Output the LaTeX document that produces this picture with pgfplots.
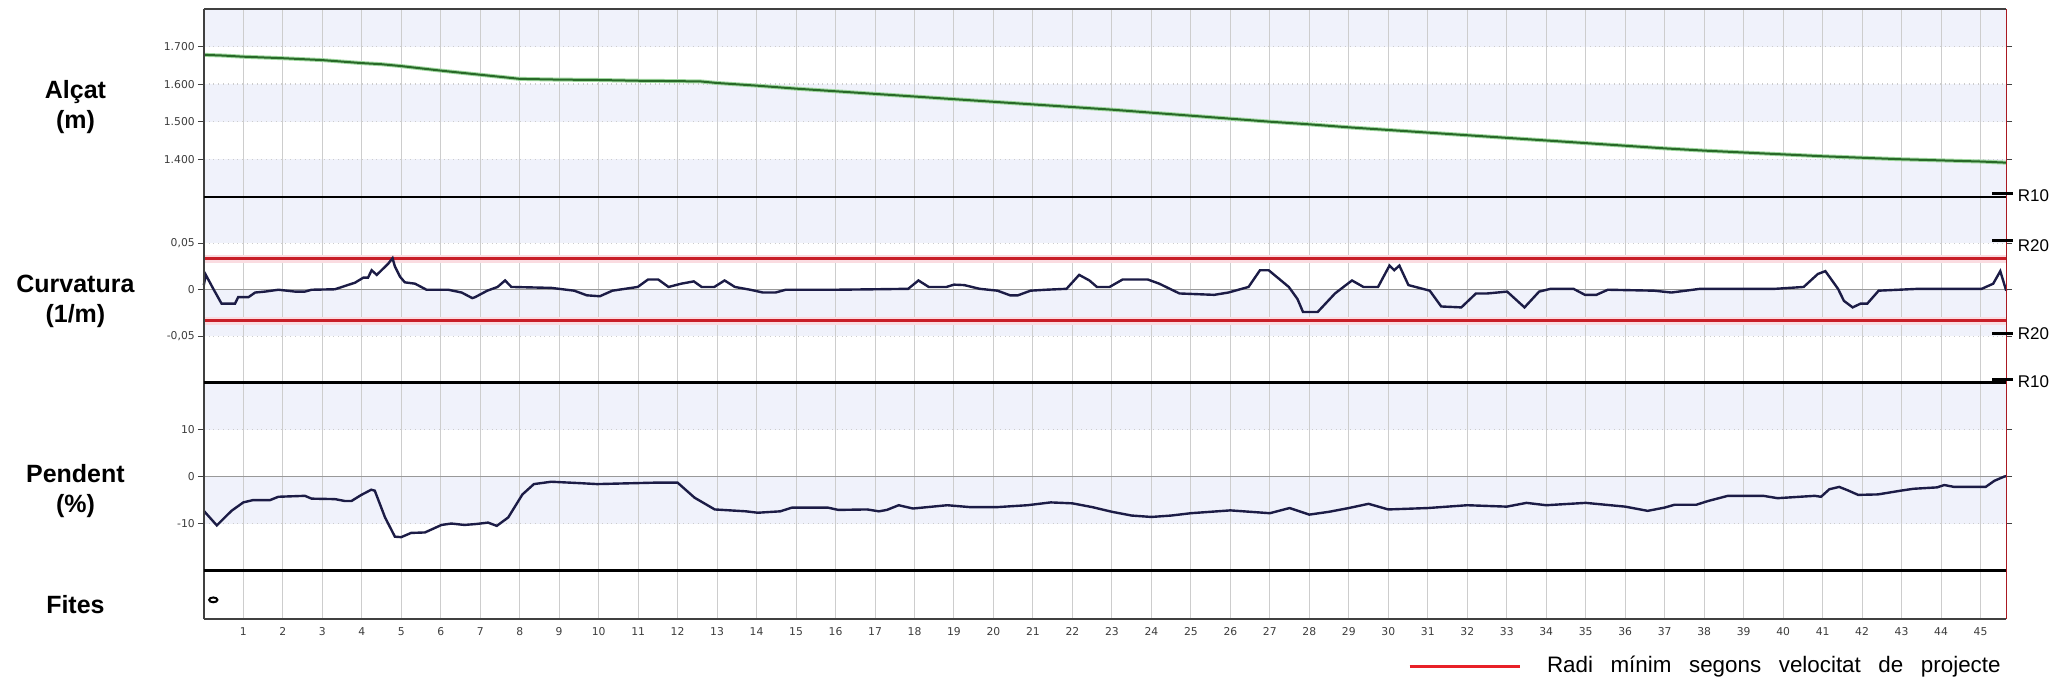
\documentclass[border=0pt]{standalone}
\usepackage{fontspec}
\setmainfont{Liberation Sans}
\newfontfamily\tickfont{DejaVu Sans}
\usepackage{pgfplots}
\pgfplotsset{compat=1.18}

\definecolor{framec}{RGB}{64,64,64}
\definecolor{band}{RGB}{240,242,251}
\definecolor{gridc}{RGB}{205,205,205}
\definecolor{navy}{RGB}{28,28,70}
\definecolor{dgreen}{RGB}{40,105,40}
\definecolor{lgreen}{RGB}{160,215,160}
\definecolor{redline}{RGB}{200,30,40}
\definecolor{pinkglow}{RGB}{250,220,225}
\definecolor{legred}{RGB}{232,32,40}
\definecolor{ticktext}{RGB}{60,60,60}

\pgfplotsset{
  panel/.style={
    set layers, clip=false,
    scale only axis, width=902pt, xmin=0, xmax=45.65,
    xtick={1,...,45},
    grid=major,
    x grid style={gridc, line width=0.5pt},
    y grid style={gridc, dotted, line width=0.7pt},
    axis line style={draw=none},
    tick label style={font=\tickfont\fontsize{5.4}{6}\selectfont, text=ticktext},
    yticklabel style={xshift=2pt},
    xticklabel style={yshift=2.5pt},
    ytick style={framec, line width=0.5pt}, xtick style={draw=none},
    tick align=outside, major tick length=3pt,
    /pgf/number format/assume math mode=true,
  },
  nolabels/.style={xticklabels={}},
}
\newcommand\sides{%
  \draw[framec, line width=1pt] (rel axis cs:0,0) -- (rel axis cs:0,1);
  \draw[redline!85!black, line width=0.6pt] (rel axis cs:1,0) -- (rel axis cs:1,1);
}

\begin{document}
\begin{tikzpicture}

% Alcat
\begin{axis}[panel, nolabels, at={(102pt,-4.5pt)}, anchor=north west, height=94pt,
  ymin=1300, ymax=1800, ytick={1400,1500,1600,1700},
  yticklabels={1.400,1.500,1.600,1.700}]
\begin{pgfonlayer}{axis background}
\fill[band] (axis cs:0,1700) rectangle (axis cs:45.65,1800);
\fill[band] (axis cs:0,1500) rectangle (axis cs:45.65,1600);
\fill[band] (axis cs:0,1300) rectangle (axis cs:45.65,1400);
\end{pgfonlayer}
\addplot[lgreen, line width=2pt] coordinates {
(0,1678) (0.5,1676) (1,1673) (2,1669) (3,1664) (4,1656) (4.5,1653) (5,1648) (6,1636)
(7,1625) (8,1614) (9,1612) (10,1611) (11,1609) (12,1608) (12.6,1607) (13,1603) (14,1596)
(15,1588) (16,1581) (17,1574) (18,1567) (19,1560) (20,1553) (21,1546) (22,1539) (23,1532)
(24,1524) (25,1516) (26,1508) (27,1500) (28,1493) (29,1485) (30,1478) (31,1471) (32,1464)
(33,1457) (34,1450) (35,1443) (36,1436) (37,1429) (38,1423) (39,1418) (40,1413) (41,1408)
(42,1404) (43,1400) (44,1397) (45,1394) (45.65,1391)};
\addplot[dgreen, line width=1pt] coordinates {
(0,1678) (0.5,1676) (1,1673) (2,1669) (3,1664) (4,1656) (4.5,1653) (5,1648) (6,1636)
(7,1625) (8,1614) (9,1612) (10,1611) (11,1609) (12,1608) (12.6,1607) (13,1603) (14,1596)
(15,1588) (16,1581) (17,1574) (18,1567) (19,1560) (20,1553) (21,1546) (22,1539) (23,1532)
(24,1524) (25,1516) (26,1508) (27,1500) (28,1493) (29,1485) (30,1478) (31,1471) (32,1464)
(33,1457) (34,1450) (35,1443) (36,1436) (37,1429) (38,1423) (39,1418) (40,1413) (41,1408)
(42,1404) (43,1400) (44,1397) (45,1394) (45.65,1391)};
\sides
\draw[framec, line width=1pt] (rel axis cs:0,1) -- (rel axis cs:1,1);
\end{axis}

% Curvatura
\begin{axis}[panel, nolabels, at={(102pt,-98.5pt)}, anchor=north west, height=93pt,
  ymin=-0.1, ymax=0.1, ytick={-0.05,0,0.05},
  yticklabels={{-0,05},0,{0,05}}]
\begin{pgfonlayer}{axis background}
\fill[band] (axis cs:0,0.05) rectangle (axis cs:45.65,0.1);
\fill[band] (axis cs:0,-0.05) rectangle (axis cs:45.65,0);
\end{pgfonlayer}
\addplot[gray!80, line width=0.6pt] coordinates {(0,0) (45.65,0)};
\addplot[pinkglow, line width=4pt] coordinates {(0,0.0335) (45.65,0.0335)};
\addplot[pinkglow, line width=4pt] coordinates {(0,-0.0335) (45.65,-0.0335)};
\addplot[redline, line width=1.5pt] coordinates {(0,0.0335) (45.65,0.0335)};
\addplot[redline, line width=1.5pt] coordinates {(0,-0.0335) (45.65,-0.0335)};
\addplot[navy, line width=1.2pt] coordinates {
(0,0.005) (0.05,0.016) (0.24,0.001) (0.45,-0.015) (0.79,-0.015) (0.87,-0.008) (1.13,-0.008)
(1.3,-0.003) (1.55,-0.002) (1.89,0) (2.31,-0.002) (2.56,-0.002) (2.73,0) (3.32,0.0005)
(3.57,0.004) (3.83,0.0076) (4.04,0.013) (4.16,0.013) (4.25,0.021) (4.38,0.016) (4.67,0.028)
(4.78,0.034) (4.84,0.025) (4.97,0.014) (5.09,0.008) (5.35,0.0065) (5.64,0) (6.19,0)
(6.53,-0.003) (6.8,-0.009) (6.87,-0.008) (7.18,-0.001) (7.44,0.003) (7.63,0.010) (7.79,0.003)
(8.8,0.002) (9.38,-0.001) (9.7,-0.006) (10.03,-0.007) (10.35,-0.001) (10.99,0.003)
(11.25,0.011) (11.51,0.011) (11.77,0.003) (12.09,0.0065) (12.41,0.009) (12.61,0.003)
(12.93,0.003) (13.19,0.010) (13.45,0.003) (13.84,0) (14.16,-0.003) (14.48,-0.003) (14.74,0)
(16,0) (17,0.0005) (17.84,0.001) (18.1,0.010) (18.36,0.003) (18.81,0.003) (19.0,0.0055)
(19.26,0.005) (19.65,0.001) (20.1,-0.001) (20.42,-0.006) (20.62,-0.006) (20.94,-0.001)
(21.33,0) (21.85,0.001) (22.17,0.016) (22.43,0.010) (22.62,0.003) (22.94,0.003) (23.27,0.011)
(23.91,0.011) (24.2,0.0065) (24.71,-0.004) (25.59,-0.0055) (25.95,-0.003) (26.46,0.003)
(26.75,0.021) (26.97,0.021) (27.48,0.003) (27.7,-0.010) (27.84,-0.024) (28.21,-0.024)
(28.65,-0.004) (29.08,0.010) (29.37,0.003) (29.74,0.003) (30.03,0.026) (30.15,0.021)
(30.28,0.026) (30.51,0.005) (31.05,-0.001) (31.34,-0.018) (31.85,-0.019) (32.22,-0.004)
(32.51,-0.004) (33.01,-0.002) (33.45,-0.019) (33.82,-0.002) (34.11,0.001) (34.69,0.001)
(34.98,-0.0055) (35.27,-0.0055) (35.56,0) (36.73,-0.001) (37.17,-0.003) (37.9,0.001)
(38.92,0.001) (39.8,0.001) (40.52,0.003) (40.88,0.017) (41.07,0.020) (41.39,0.001)
(41.54,-0.012) (41.76,-0.019) (41.96,-0.015) (42.13,-0.015) (42.42,-0.001) (43.43,0.001)
(45.03,0.001) (45.32,0.0065) (45.5,0.020) (45.65,-0.001)};
\sides
\draw[black, line width=1.2pt] (rel axis cs:0,1) -- (rel axis cs:1,1);
\begin{scope}[font=\fontsize{8.5}{10}\selectfont]
\draw[black, line width=1.5pt] (axis cs:45.3,0.1) ++(0pt,1.5pt) -- ++(10.5pt,0pt) node[anchor=west, inner sep=1.5pt, yshift=-1pt] {R10};
\draw[black, line width=1.5pt] (axis cs:45.3,0.05) ++(0pt,1.5pt) -- ++(10.5pt,0pt) node[anchor=west, inner sep=1.5pt, yshift=-2.5pt] {R20};
\draw[black, line width=1.5pt] (axis cs:45.3,-0.05) ++(0pt,1.5pt) -- ++(10.5pt,0pt) node[anchor=west, inner sep=1.5pt] {R20};
\draw[black, line width=1.5pt] (axis cs:45.3,-0.1) ++(0pt,1.5pt) -- ++(10.5pt,0pt) node[anchor=west, inner sep=1.5pt, yshift=-1pt] {R10};
\end{scope}
\end{axis}

% Pendent
\begin{axis}[panel, nolabels, at={(102pt,-191.5pt)}, anchor=north west, height=94pt,
  ymin=-20, ymax=20, ytick={-10,0,10}, yticklabels={-10,0,10}]
\begin{pgfonlayer}{axis background}
\fill[band] (axis cs:0,10) rectangle (axis cs:45.65,20);
\fill[band] (axis cs:0,-10) rectangle (axis cs:45.65,0);
\end{pgfonlayer}
\addplot[gray!80, line width=0.6pt] coordinates {(0,0) (45.65,0)};
\addplot[navy, line width=1.2pt] coordinates {
(0,-7.3) (0.33,-10.4) (0.7,-7.3) (1.0,-5.5) (1.25,-5.0) (1.68,-5.0) (1.89,-4.3) (2.56,-4.1)
(2.73,-4.7) (3.32,-4.8) (3.57,-5.2) (3.74,-5.2) (3.99,-3.9) (4.24,-2.8) (4.33,-3.0)
(4.59,-8.7) (4.84,-12.8) (5.0,-12.9) (5.25,-12.0) (5.6,-11.9) (6.02,-10.3) (6.27,-10.0)
(6.6,-10.3) (6.9,-10.1) (7.2,-9.8) (7.42,-10.5) (7.71,-8.7) (8.07,-3.8) (8.36,-1.6)
(8.8,-1.1) (9.53,-1.4) (9.96,-1.6) (11.4,-1.3) (12.0,-1.3) (12.43,-4.5) (12.94,-7.0)
(13.73,-7.4) (14.03,-7.7) (14.6,-7.4) (14.9,-6.6) (15.8,-6.6) (16.07,-7.1) (16.8,-7.0)
(17.1,-7.4) (17.3,-7.1) (17.6,-6.1) (17.96,-6.8) (18.83,-6.1) (19.4,-6.5) (20.1,-6.5)
(20.86,-6.1) (21.45,-5.5) (22.0,-5.7) (22.5,-6.5) (23,-7.5) (23.5,-8.3) (24,-8.6)
(24.5,-8.3) (25,-7.8) (26,-7.2) (26.5,-7.5) (27,-7.8) (27.5,-6.7) (28,-8.1) (28.5,-7.5)
(29,-6.7) (29.5,-5.8) (30,-7.0) (31,-6.7) (32,-6.1) (33,-6.4) (33.5,-5.6) (34,-6.1)
(35,-5.6) (36,-6.4) (36.57,-7.3) (37.0,-6.6) (37.25,-6.0) (37.8,-6.0) (38.1,-5.2)
(38.6,-4.1) (39.5,-4.1) (39.86,-4.6) (40.8,-4.1) (40.96,-4.3) (41.17,-2.7) (41.42,-2.2)
(41.63,-2.9) (41.9,-3.9) (42.4,-3.8) (42.98,-3.0) (43.3,-2.6) (43.9,-2.3) (44.08,-1.8)
(44.33,-2.2) (45.13,-2.2) (45.35,-0.9) (45.6,0) (45.65,0.1)};
\sides
\draw[black, line width=1.2pt] (rel axis cs:0,1) -- (rel axis cs:1,1);
\end{axis}

% Fites
\begin{axis}[panel, at={(102pt,-285.5pt)}, anchor=north west, height=24.5pt,
  ymin=0, ymax=1, ytick=\empty]
\addplot[only marks, mark=*, mark size=1.6pt,
  mark options={draw=black, fill=white, line width=1pt, xscale=1.3, yscale=0.75}]
  coordinates {(0.24,0.4)};
\sides
\draw[black, line width=1.2pt] (rel axis cs:0,1) -- (rel axis cs:1,1);
\draw[framec, line width=1pt] (rel axis cs:0,0) -- (rel axis cs:1,0);
\end{axis}

% panel titles
\begin{scope}[every node/.style={align=center, font=\bfseries\fontsize{12.5}{15}\selectfont}]
\node at (37.75pt,-53.5pt) {Alçat\\(m)};
\node at (37.75pt,-151pt) {Curvatura\\(1/m)};
\node at (37.75pt,-245.5pt) {Pendent\\(\%)};
\node at (37.75pt,-302.5pt) {Fites};
\end{scope}

% legend
\draw[legred, line width=1.5pt] (705.5pt,-333.5pt) -- (760.5pt,-333.5pt);
\node[anchor=west, inner sep=0pt, font=\fontsize{11.2}{13}\selectfont] at (774pt,-333.5pt)
  {\makebox[227pt][s]{Radi mínim segons velocitat de projecte}};

\path (0pt,0pt) rectangle (1026pt,-343pt);
\end{tikzpicture}
\end{document}
